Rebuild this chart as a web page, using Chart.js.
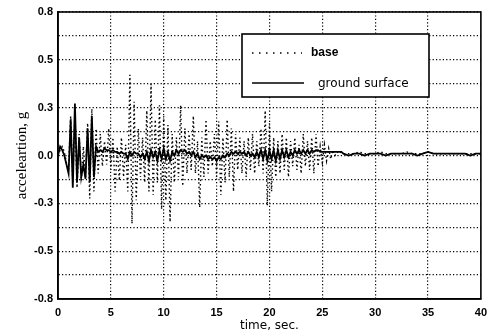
<!DOCTYPE html>
<html>
<head>
<meta charset="utf-8">
<script src="https://cdn.jsdelivr.net/npm/chart.js@4/dist/chart.umd.min.js"></script>
<style>
html,body{margin:0;padding:0;background:#fff;}
#wrap{width:494px;height:333px;}
</style>
</head>
<body>
<div id="wrap"><canvas id="c" width="494" height="333"></canvas></div>
<script>
// time samples (s): 0.2 s steps to 27 s, then 0.5 s steps to 40 s
const timeEarly = [0,0.2,0.4,0.6,0.8,1,1.2,1.4,1.6,1.8,2,2.2,2.4,2.6,2.8,3,3.2,3.4,3.6,3.8,4,4.2,4.4,4.6,4.8,5,5.2,5.4,5.6,5.8,6,6.2,6.4,6.6,6.8,7,7.2,7.4,7.6,7.8,8,8.2,8.4,8.6,8.8,9,9.2,9.4,9.6,9.8,10,10.2,10.4,10.6,10.8,11,11.2,11.4,11.6,11.8,12,12.2,12.4,12.6,12.8,13,13.2,13.4,13.6,13.8,14,14.2,14.4,14.6,14.8,15,15.2,15.4,15.6,15.8,16,16.2,16.4,16.6,16.8,17,17.2,17.4,17.6,17.8,18,18.2,18.4,18.6,18.8,19,19.2,19.4,19.6,19.8,20,20.2,20.4,20.6,20.8,21,21.2,21.4,21.6,21.8,22,22.2,22.4,22.6,22.8,23,23.2,23.4,23.6,23.8,24,24.2,24.4,24.6,24.8,25,25.2,25.4,25.6,25.8,26,26.2,26.4,26.6,26.8,27];
const timeLate = [27.5,28,28.5,29,29.5,30,30.5,31,31.5,32,32.5,33,33.5,34,34.5,35,35.5,36,36.5,37,37.5,38,38.5,39,39.5,40];

// base acceleration (g)
const baseEarly = [0.00,0.03,0.05,0.02,-0.04,-0.08,0.22,-0.15,0.25,-0.18,0.12,-0.14,0.05,-0.12,0.18,-0.24,0.26,-0.20,0.15,-0.10,
0.12,-0.06,0.08,-0.05,0.15,-0.08,0.10,-0.20,0.05,-0.14,0.10,-0.12,0.06,-0.20,0.45,-0.38,0.30,-0.25,0.15,-0.12,
0.10,-0.15,0.25,-0.20,0.40,-0.22,0.20,-0.15,0.28,-0.30,0.22,-0.25,0.17,-0.37,0.12,-0.15,0.10,-0.12,0.28,-0.17,
0.15,-0.10,0.12,-0.08,0.22,-0.10,0.08,-0.29,0.10,-0.12,0.20,-0.10,0.08,-0.06,0.12,-0.12,0.19,-0.22,0.10,-0.15,
0.20,-0.12,0.15,-0.20,0.12,-0.08,0.10,-0.10,0.08,-0.12,0.10,-0.08,0.12,-0.10,0.08,-0.06,0.15,-0.10,0.25,-0.28,
0.18,-0.20,0.10,-0.12,0.08,-0.10,0.12,-0.08,0.10,-0.12,0.08,-0.06,0.10,-0.08,0.06,-0.10,0.12,-0.06,0.08,-0.08,
0.10,-0.10,0.12,-0.06,0.05,-0.04,0.06,-0.03,0.04,-0.02,0.03,0.00,0.02,0.01,0.02,0.01];
const baseLate = [0.01,0.01,0.02,0.01,0.01,0.01,0.02,0.01,0.01,0.01,0.01,0.02,0.01,0.01,0.01,0.02,0.01,0.01,0.01,0.01,0.01,0.01,0.01,0.01,0.01,0.01];

// ground surface acceleration (g)
const groundEarly = [0.00,0.05,0.03,0.00,-0.05,-0.10,0.20,-0.18,0.29,-0.15,0.10,-0.12,-0.05,-0.13,0.15,-0.15,0.22,-0.12,0.05,0.02,
0.03,0.02,0.04,0.03,0.03,0.02,0.03,0.02,0.02,0.01,0.02,0.01,0.01,-0.02,0.02,0.00,0.02,0.01,0.01,-0.01,
0.01,-0.02,0.02,-0.03,0.03,-0.01,0.02,-0.03,0.03,-0.02,0.04,-0.02,0.02,-0.03,0.02,0.00,0.03,0.01,0.03,0.02,
0.03,0.01,0.02,0.00,0.02,-0.01,0.01,-0.02,0.00,-0.01,0.00,-0.02,-0.01,-0.02,-0.01,-0.03,-0.01,-0.02,0.00,-0.01,
0.01,0.00,0.02,0.01,0.02,0.01,0.02,0.01,0.02,0.00,0.02,0.00,0.01,-0.01,0.02,-0.01,0.03,-0.02,0.03,-0.03,
0.03,-0.02,0.03,-0.03,0.03,-0.02,0.03,-0.01,0.03,-0.01,0.02,0.00,0.03,0.01,0.03,0.01,0.03,0.01,0.03,0.01,
0.03,0.02,0.03,0.03,0.02,0.02,0.02,0.02,0.02,0.02,0.02,0.02,0.02,0.02,0.02,0.01];
const groundLate = [0.00,0.01,0.01,0.00,0.01,0.01,0.01,0.00,0.01,0.01,0.01,0.01,0.01,0.00,0.01,0.02,0.01,0.01,0.01,0.01,0.01,0.01,0.01,0.00,0.01,0.01];

// axis ticks
const xTicks = [0,5,10,15,20,25,30,35,40];
const yTickValues = [-0.8,-0.6667,-0.5333,-0.4,-0.2667,-0.1333,0,0.1333,0.2667,0.4,0.5333,0.6667,0.8];
const yTickLabels = ["-0.8","","-0.5","","-0.3","","0.0","","0.3","","0.5","","0.8"];

const seriesNames = ["base","ground surface"];

const timeAll = timeEarly.concat(timeLate);
const toPts = (vals) => vals.map((v,i)=>({x:timeAll[i], y:v}));

const frame = {
  id:'frame',
  afterDraw(chart){
    const {ctx, chartArea:a} = chart;
    ctx.save();
    ctx.strokeStyle='#000';
    ctx.lineWidth=1.6;
    ctx.strokeRect(a.left, a.top, a.right-a.left, a.bottom-a.top);
    // legend box
    const bx = a.left+184, by = a.top+22, bw = 187, bh = 63;
    ctx.fillStyle='#fff';
    ctx.fillRect(bx,by,bw,bh);
    ctx.lineWidth=1.6;
    ctx.strokeRect(bx,by,bw,bh);
    ctx.lineWidth=1.4;
    ctx.setLineDash([1.5,5.5]);
    ctx.beginPath(); ctx.moveTo(bx+10, by+19); ctx.lineTo(bx+60, by+19); ctx.stroke();
    ctx.setLineDash([]);
    ctx.lineWidth=1.4;
    ctx.beginPath(); ctx.moveTo(bx+10, by+49); ctx.lineTo(bx+62, by+49); ctx.stroke();
    ctx.fillStyle='#000';
    ctx.textBaseline='middle';
    ctx.textAlign='left';
    ctx.font='bold 12px "Liberation Sans", Arial, sans-serif';
    ctx.fillText(seriesNames[0], bx+69, by+19);
    ctx.font='12px "DejaVu Sans", sans-serif';
    ctx.fillText(seriesNames[1], bx+76, by+50);
    ctx.restore();
  }
};

new Chart(document.getElementById('c'), {
  type:'line',
  data:{
    datasets:[
      {label:seriesNames[0], data:toPts(baseEarly.concat(baseLate)), borderColor:'#000', borderWidth:1.4, borderDash:[1.5,2.8], pointRadius:0, tension:0, order:2},
      {label:seriesNames[1], data:toPts(groundEarly.concat(groundLate)), borderColor:'#000', borderWidth:1.8, pointRadius:0, tension:0, order:1}
    ]
  },
  options:{
    responsive:false,
    animation:false,
    events:[],
    layout:{padding:{top:12,right:8,left:0,bottom:0}},
    plugins:{legend:{display:false}, tooltip:{enabled:false}},
    scales:{
      x:{
        type:'linear', min:0, max:40,
        afterBuildTicks(s){ s.ticks = xTicks.map(v=>({value:v})); },
        afterFit(s){ s.height = 34; },
        grid:{
          color:(c)=> (c.tick && (c.tick.value===0 || c.tick.value===40)) ? 'rgba(0,0,0,0)' : '#000',
          lineWidth:1.2, drawTicks:false
        },
        border:{display:true, color:'#000', width:1.6, dash:[1.2,2.2]},
        ticks:{color:'#000', padding:7, maxRotation:0, font:{family:'"Liberation Sans", Arial, sans-serif', size:11, weight:'bold'}, callback:(v)=>String(v)},
        title:{display:true, text:'time, sec.', color:'#000', padding:{top:0,bottom:0}, font:{family:'"DejaVu Sans", sans-serif', size:12}}
      },
      y:{
        type:'linear', min:-0.8, max:0.8,
        afterBuildTicks(s){ s.ticks = yTickValues.map(v=>({value:v})); },
        afterFit(s){ s.width = 58; },
        grid:{color:'#000', lineWidth:1.2, drawTicks:false},
        border:{display:true, color:'#000', width:1.6, dash:[1.2,2.2]},
        ticks:{color:'#000', padding:5, font:{family:'"Liberation Sans", Arial, sans-serif', size:11, weight:'bold'}, callback:(v,i)=>yTickLabels[i]},
        title:{display:true, text:'acceleartion, g', color:'#000', padding:{top:13,bottom:0}, font:{family:'"Liberation Serif", "Times New Roman", serif', size:15}}
      }
    }
  },
  plugins:[frame]
});
</script>
</body>
</html>
